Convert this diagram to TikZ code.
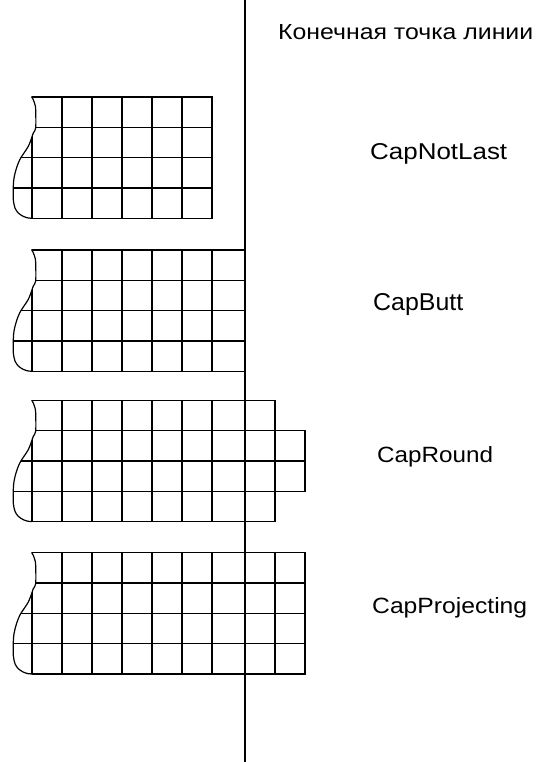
\documentclass[tikz,border=0pt]{standalone}
\usepackage{fontspec}
\setmainfont{Liberation Sans}
\tikzset{
  gline/.style={line width=1.4pt, line cap=rect},
  waveline/.style={line width=1.2pt, line join=round},
  endline/.style={line width=1.4pt},
  lbl/.style={anchor=base west, inner sep=0pt, font=\fontsize{22}{26}\selectfont}
}
\newcommand\gridblock[2]{%
  \begin{scope}[shift={(0,#1)}]
    \begin{scope}
      \clip (31.7,-4) -- plot[smooth, tension=0.5] coordinates {(31.7,0) (33.3,2.7) (35,7.7) (35.7,12.7) (35.7,31) (33.3,36) (31,42.7) (28.3,49.4) (24,56) (20.7,61) (18.3,66) (16,72.7) (14,81) (13.3,89.4) (13.3,102.7) (15,111) (18.3,116) (23.3,119.4) (28.3,121) (32,121.2)} -- (32,126) -- (420,126) -- (420,-4) -- cycle;
      #2
    \end{scope}
    \draw[waveline] plot[smooth, tension=0.5] coordinates {(31.7,0) (33.3,2.7) (35,7.7) (35.7,12.7) (35.7,31) (33.3,36) (31,42.7) (28.3,49.4) (24,56) (20.7,61) (18.3,66) (16,72.7) (14,81) (13.3,89.4) (13.3,102.7) (15,111) (18.3,116) (23.3,119.4) (28.3,121) (32,121.2)};
  \end{scope}}
\begin{document}
\begin{tikzpicture}[x=1pt, y=-1pt]
\useasboundingbox (0,0) rectangle (543,762);
\fill[white] (0,0) rectangle (543,762);

% CapNotLast
\gridblock{97}{%
  \foreach \r in {0,30.3,60.6,90.9,121.2} \draw[gline] (0,\r) -- (212,\r);
  \foreach \c in {32,62,92,122,152,182,212} \draw[gline] (\c,0) -- (\c,121.2);
}
% CapButt
\gridblock{250}{%
  \foreach \r in {0,30.3,60.6,90.9,121.2} \draw[gline] (0,\r) -- (245,\r);
  \foreach \c in {32,62,92,122,152,182,212} \draw[gline] (\c,0) -- (\c,121.2);
}
% CapRound
\gridblock{400.3}{%
  \foreach \r in {0,121.2} \draw[gline] (0,\r) -- (275,\r);
  \foreach \r in {30.3,60.6,90.9} \draw[gline] (0,\r) -- (305,\r);
  \foreach \c in {32,62,92,122,152,182,212,275} \draw[gline] (\c,0) -- (\c,121.2);
  \draw[gline] (305,30.3) -- (305,90.9);
}
% CapProjecting
\gridblock{552.7}{%
  \foreach \r in {0,30.3,60.6,90.9,121.2} \draw[gline] (0,\r) -- (305,\r);
  \foreach \c in {32,62,92,122,152,182,212,275,305} \draw[gline] (\c,0) -- (\c,121.2);
}

% end point line
\draw[endline] (245,0) -- (245,762);

% labels
\node[lbl] (hdr) at (278,40) {\resizebox{255pt}{15pt}{Конечная точка линии}};
\node[lbl] (l1) at (370,160) {\resizebox{137pt}{16pt}{CapNotLast}};
\node[lbl] (l2) at (373,310) {\resizebox{90pt}{17pt}{CapButt}};
\node[lbl] (l3) at (377,462) {\resizebox{116pt}{16pt}{CapRound}};
\node[lbl] (l4) at (372,613) {\resizebox{155pt}{16pt}{CapProjecting}};
\end{tikzpicture}
\end{document}
